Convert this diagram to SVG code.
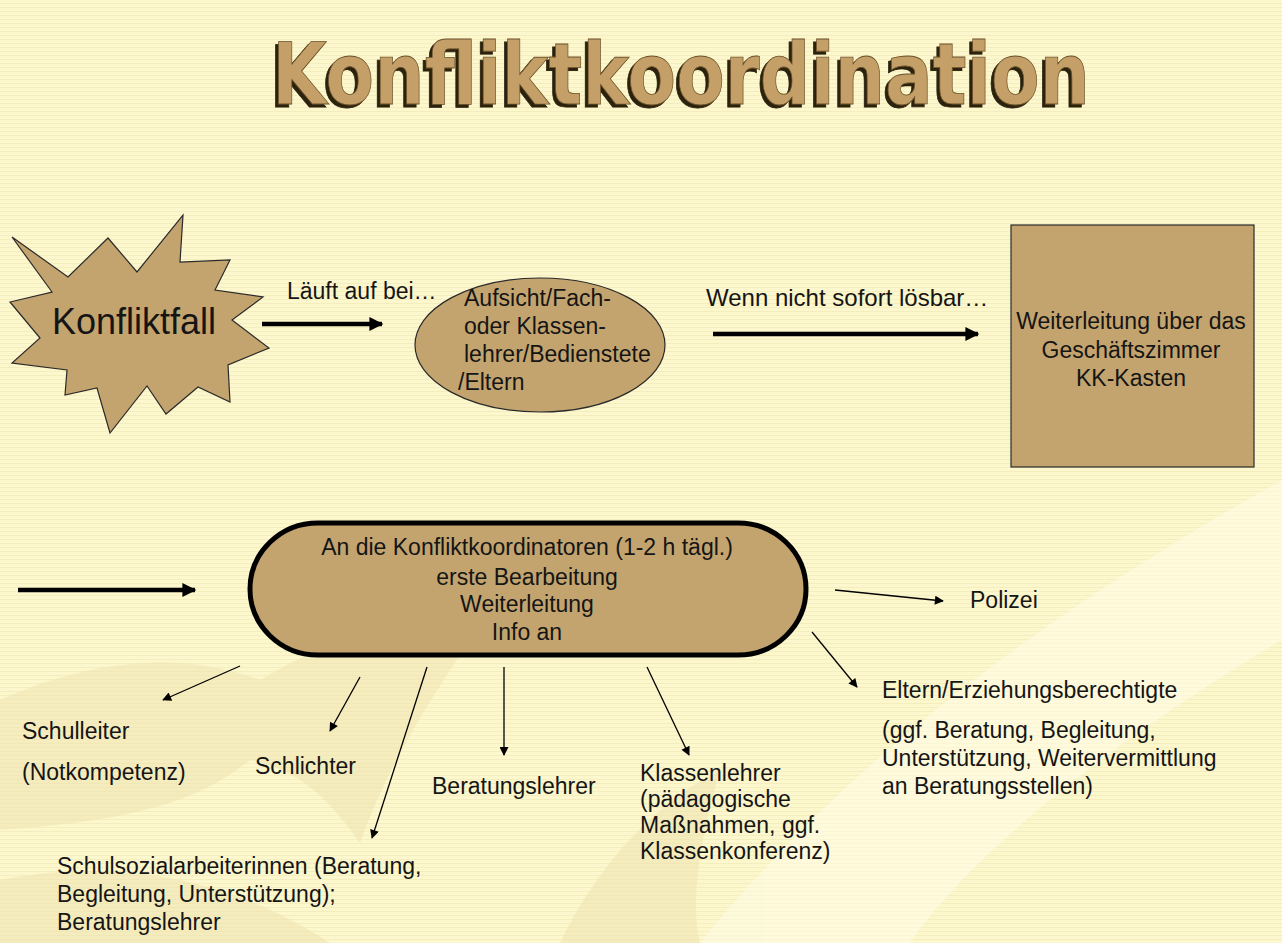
<svg xmlns="http://www.w3.org/2000/svg" width="1282" height="943" viewBox="0 0 1282 943">
  <defs>
    <pattern id="stripes" width="8" height="4" patternUnits="userSpaceOnUse">
      <rect width="8" height="4" fill="#FCF7CC"/>
      <rect y="3" width="8" height="1" fill="#F4EDBE"/>
    </pattern>
    <filter id="shadow" x="-5%" y="-20%" width="110%" height="140%">
      <feOffset in="SourceAlpha" dx="-3" dy="3" result="off"/>
      <feFlood flood-color="#2b200c"/>
      <feComposite in2="off" operator="in" result="sh"/>
      <feMerge><feMergeNode in="sh"/><feMergeNode in="SourceGraphic"/></feMerge>
    </filter>
    <marker id="headThick" viewBox="0 0 10 10" refX="9" refY="5" markerWidth="16" markerHeight="14" markerUnits="userSpaceOnUse" orient="auto">
      <path d="M0,0 L10,5 L0,10 z" fill="#000"/>
    </marker>
    <marker id="headThin" viewBox="0 0 10 10" refX="9" refY="5" markerWidth="11" markerHeight="9" markerUnits="userSpaceOnUse" orient="auto">
      <path d="M0,0 L10,5 L0,10 z" fill="#000"/>
    </marker>
  </defs>
  <style>
    .lbl { font-family: "Liberation Sans", Arial, sans-serif; font-size: 23px; fill: #151515; }
    .big { font-size: 36px; }
    .node { fill: #C4A46E; stroke: #2a2a2a; stroke-width: 1.2; }
    .thick { stroke: #000; stroke-width: 4.5; fill: none; marker-end: url(#headThick); }
    .thin { stroke: #000; stroke-width: 1.3; fill: none; marker-end: url(#headThin); }
    .title { font-family: "DejaVu Sans", "Liberation Sans", sans-serif; font-weight: bold; font-size: 86px; fill: #C4A068; stroke: #6a5028; stroke-width: 0.8; }
  </style>

  <!-- background -->
  <rect width="1282" height="943" fill="url(#stripes)"/>
  <g id="decor" opacity="0.5">
    <path d="M700,943 C800,820 960,660 1282,480 L1282,640 C1080,760 960,870 910,943 Z" fill="#FFFDEA"/>
    <path d="M0,700 C90,660 180,650 260,680 C330,640 400,610 470,640 C430,700 390,760 360,843 C330,800 300,770 250,760 C200,800 140,820 0,830 Z" fill="#EFE3B0"/>
    <path d="M0,880 C100,860 220,870 330,943 L0,943 Z" fill="#EFE3B0"/>
    <path d="M560,943 C600,860 660,800 720,770 C700,840 690,900 700,943 Z" fill="#EFE3B0"/>
  </g>

  <!-- title -->
  <g id="title">
    <text class="title" x="272" y="104" textLength="818" lengthAdjust="spacingAndGlyphs" filter="url(#shadow)">Konfliktkoordination</text>
  </g>

  <!-- connectors -->
  <g id="connectors">
    <line class="thick" x1="262" y1="324" x2="382" y2="324"/>
    <line class="thick" x1="713" y1="334" x2="978" y2="334"/>
    <line class="thick" x1="18" y1="590" x2="195" y2="590"/>
    <line class="thin" x1="835" y1="590" x2="943" y2="601"/>
    <line class="thin" x1="812" y1="632" x2="857" y2="687"/>
    <line class="thin" x1="647" y1="667" x2="689" y2="755"/>
    <line class="thin" x1="504" y1="667" x2="504" y2="755"/>
    <line class="thin" x1="427" y1="667" x2="372" y2="838"/>
    <line class="thin" x1="360" y1="677" x2="330" y2="731"/>
    <line class="thin" x1="240" y1="666" x2="163" y2="700"/>
  </g>

  <g id="lbl-laeuft"><text class="lbl" x="287" y="299">Läuft auf bei…</text></g>
  <g id="lbl-wenn"><text class="lbl" x="706" y="306" style="font-size:24px">Wenn nicht sofort lösbar…</text></g>

  <!-- Konfliktfall star -->
  <g id="konfliktfall">
    <polygon class="node" points="12,237 68,277 108,238 137,272 183,215 180,262 230,260 215,290 263,297 232,320 269,348 228,365 230,402 198,387 166,414 147,386 110,433 97,388 65,395 67,370 12,363 40,338 10,302 52,292"/>
    <text class="lbl big" x="134" y="334" text-anchor="middle">Konfliktfall</text>
  </g>

  <!-- ellipse -->
  <g id="aufsicht">
    <ellipse class="node" cx="540" cy="345" rx="125" ry="67"/>
    <text class="lbl" x="464" y="306">Aufsicht/Fach-</text>
    <text class="lbl" x="464" y="334">oder Klassen-</text>
    <text class="lbl" x="464" y="362">lehrer/Bedienstete</text>
    <text class="lbl" x="458" y="390">/Eltern</text>
  </g>

  <!-- rectangle -->
  <g id="weiterleitung">
    <rect class="node" x="1011" y="225" width="243" height="242" stroke-width="1.5"/>
    <text class="lbl" x="1131" y="329" text-anchor="middle">Weiterleitung über das</text>
    <text class="lbl" x="1131" y="358" text-anchor="middle">Geschäftszimmer</text>
    <text class="lbl" x="1131" y="386" text-anchor="middle">KK-Kasten</text>
  </g>

  <!-- pill -->
  <g id="koordinatoren">
    <rect x="250" y="523" width="556" height="132" rx="68" ry="66" fill="#C4A46E" stroke="#000" stroke-width="5"/>
    <text class="lbl" x="527" y="555" text-anchor="middle">An die Konfliktkoordinatoren (1-2 h tägl.)</text>
    <text class="lbl" x="527" y="585" text-anchor="middle">erste Bearbeitung</text>
    <text class="lbl" x="527" y="612" text-anchor="middle">Weiterleitung</text>
    <text class="lbl" x="527" y="640" text-anchor="middle">Info an</text>
  </g>

  <g id="polizei"><text class="lbl" x="970" y="608">Polizei</text></g>

  <g id="eltern">
    <text class="lbl" x="882" y="698">Eltern/Erziehungsberechtigte</text>
    <text class="lbl" x="882" y="738">(ggf. Beratung, Begleitung,</text>
    <text class="lbl" x="882" y="766">Unterstützung, Weitervermittlung</text>
    <text class="lbl" x="882" y="794">an Beratungsstellen)</text>
  </g>

  <g id="klassenlehrer">
    <text class="lbl" x="640" y="781">Klassenlehrer</text>
    <text class="lbl" x="640" y="807">(pädagogische</text>
    <text class="lbl" x="640" y="833">Maßnahmen, ggf.</text>
    <text class="lbl" x="640" y="859">Klassenkonferenz)</text>
  </g>

  <g id="beratungslehrer"><text class="lbl" x="432" y="794">Beratungslehrer</text></g>

  <g id="schulsozial">
    <text class="lbl" x="57" y="874">Schulsozialarbeiterinnen (Beratung,</text>
    <text class="lbl" x="57" y="902">Begleitung, Unterstützung);</text>
    <text class="lbl" x="57" y="930">Beratungslehrer</text>
  </g>

  <g id="schlichter"><text class="lbl" x="255" y="774">Schlichter</text></g>

  <g id="schulleiter">
    <text class="lbl" x="22" y="739">Schulleiter</text>
    <text class="lbl" x="22" y="780">(Notkompetenz)</text>
  </g>
</svg>
